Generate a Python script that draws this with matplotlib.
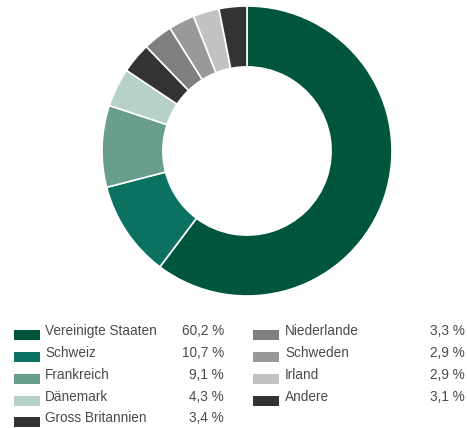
import matplotlib
matplotlib.use("Agg")
import matplotlib.pyplot as plt
from matplotlib.patches import Rectangle

labels = ["Vereinigte Staaten", "Schweiz", "Frankreich", "Dänemark", "Gross Britannien",
          "Niederlande", "Schweden", "Irland", "Andere"]
values = [60.2, 10.7, 9.1, 4.3, 3.4, 3.3, 2.9, 2.9, 3.1]
value_labels = ["60,2 %", "10,7 %", "9,1 %", "4,3 %", "3,4 %", "3,3 %", "2,9 %", "2,9 %", "3,1 %"]
colors = ["#00553d", "#0b7262", "#6a9e8c", "#b6d2c7", "#333333",
          "#7f7f7f", "#999999", "#c2c2c2", "#333333"]

W, H = 467, 428
fig = plt.figure(figsize=(W / 100, H / 100), dpi=100)
plt.rcParams['font.family'] = ['Liberation Sans', 'DejaVu Sans']

cx, cy, r = 247, 151, 145
ax = fig.add_axes([(cx - r) / W, (H - cy - r) / H, 2 * r / W, 2 * r / H])
ax.pie(values, colors=colors, startangle=90, counterclock=False, radius=1,
       wedgeprops=dict(width=0.42, edgecolor="white", linewidth=1.2))
ax.set_xlim(-1, 1)
ax.set_ylim(-1, 1)
ax.set_aspect("equal")
ax.axis("off")

txt_color = "#4a4a4a"
fs = 9.8
rows_y = [331, 353, 375, 397, 418]
cols = [(14, 45, 224), (253, 285, 465)]
for i, (lab, vl, c) in enumerate(zip(labels, value_labels, colors)):
    col = 0 if i < 5 else 1
    row = i if i < 5 else i - 5
    sx, tx, vx = cols[col]
    y = rows_y[row]
    fig.add_artist(Rectangle((sx / W, (H - y - 9) / H), 26 / W, 10 / H,
                             transform=fig.transFigure, facecolor=c, edgecolor="none"))
    fig.text(tx / W, (H - y) / H, lab, fontsize=fs, color=txt_color, va="center", ha="left")
    fig.text(vx / W, (H - y) / H, vl, fontsize=fs, color=txt_color, va="center", ha="right")

fig.savefig("out.png", dpi=100)
